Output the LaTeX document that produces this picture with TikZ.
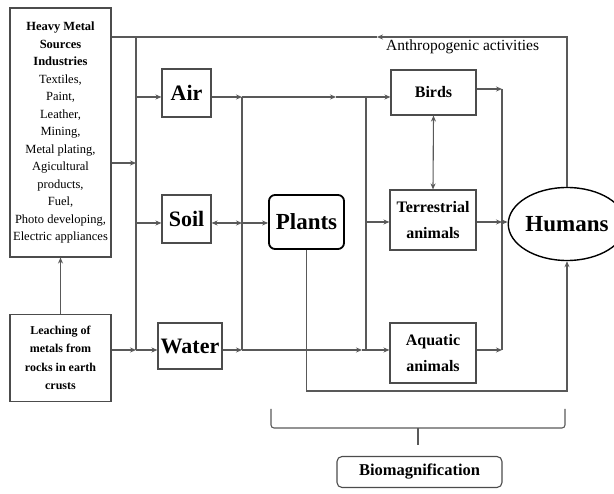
\documentclass[tikz,border=0pt]{standalone}
\usepackage{fontspec}
\setmainfont{Liberation Serif}
\usetikzlibrary{arrows.meta,shapes.geometric}
\begin{document}
\begin{tikzpicture}[x=1pt,y=-1pt,
  line/.style={draw=black!65, line width=1.1pt},
  arr/.style={line, -{Stealth[length=6pt,width=5pt]}},
  darr/.style={line, {Stealth[length=6pt,width=5pt]}-{Stealth[length=6pt,width=5pt]}},
  box/.style={draw=black!70, line width=1.1pt, inner sep=0pt, align=center, fill=white},
  big/.style={font=\bfseries\fontsize{22}{24}\selectfont},
  mid/.style={font=\bfseries\fontsize{16}{26}\selectfont},
]
\useasboundingbox (0,0) rectangle (614,494);

% nodes
\node[box, minimum width=101pt, minimum height=249pt, font=\fontsize{12.5}{17.5}\selectfont] (src) at (60.5,132.5)
  {\textbf{Heavy Metal}\\ \textbf{Sources}\\ \textbf{Industries}\\ Textiles,\\ Paint,\\ Leather,\\ Mining,\\ Metal plating,\\ Agicultural\\ products,\\ Fuel,\\ Photo developing,\\ Electric appliances};
\node[box, minimum width=101pt, minimum height=87pt, font=\bfseries\fontsize{12}{18.5}\selectfont] (leach) at (60.5,358)
  {Leaching of\\ metals from\\ rocks in earth\\ crusts};
\node[box, big, minimum width=49pt, minimum height=48pt] (air) at (186.5,93) {Air};
\node[box, big, minimum width=49pt, minimum height=48pt] (soil) at (186.5,219) {Soil};
\node[box, big, minimum width=64pt, minimum height=46pt] (water) at (190,346) {Water};
\node[box, font=\bfseries\fontsize{23}{25}\selectfont, minimum width=75pt, minimum height=54pt, rounded corners=6pt, draw=black, line width=1.8pt] (plants) at (306.5,222) {Plants};
\node[box, mid, minimum width=85pt, minimum height=45pt] (birds) at (433.5,92.5) {Birds};
\node[box, mid, minimum width=86pt, minimum height=60pt] (terr) at (433,220) {Terrestrial\\ animals};
\node[box, mid, minimum width=86pt, minimum height=60pt] (aqua) at (433,353) {Aquatic\\ animals};
\node[box, ellipse, font=\bfseries\fontsize{23}{25}\selectfont, minimum width=92pt, minimum height=73pt, draw=black, line width=1.4pt] (hum) at (567,224) {Humans};
\node[box, font=\bfseries\fontsize{16.5}{20}\selectfont, minimum width=165pt, minimum height=31pt, rounded corners=5pt] (bio) at (419.5,472) {Biomagnification};
\node[font=\fontsize{15.5}{18}\selectfont, anchor=west, inner sep=0pt] (anthro) at (386,47) {Anthropogenic activities};

% coordinates
\coordinate (amark) at (377,37);
\coordinate (b1t) at (136,37);
\coordinate (b1a) at (136,97);
\coordinate (b1s) at (136,163);
\coordinate (b1soil) at (136,223);
\coordinate (b1b) at (136,350);
\coordinate (b2a) at (242,97);
\coordinate (b2s) at (242,223);
\coordinate (b2w) at (242,350);
\coordinate (m1) at (336,97);
\coordinate (m2) at (362,350);
\coordinate (b3a) at (366,97);
\coordinate (b3t) at (366,222);
\coordinate (b3w) at (366,350);
\coordinate (b4a) at (502,89);
\coordinate (b4t) at (502,222);
\coordinate (b4w) at (502,350);
\coordinate (pb) at (0,391);

% return line
\draw[arr] (hum.north) -- (hum.north |- amark) -- (amark);
\draw[line] (amark) -- (src.east |- amark);

% bus 1
\draw[line] (b1t) -- (b1b);
\draw[arr] (src.east |- b1s) -- (b1s);
\draw[arr] (b1a) -- (air.west |- b1a);
\draw[arr] (b1soil) -- (soil.west |- b1soil);
\draw[arr] (leach.east |- b1b) -- (b1b);
\draw[arr] (b1b) -- (water.west |- b1b);
\draw[arr] (leach.north) -- (src.south);

% bus 2
\draw[line] (b2a) -- (b2w);
\draw[arr] (air.east |- b2a) -- (b2a);
\draw[darr] (soil.east |- b2s) -- (b2s);
\draw[arr] (b2s) -- (plants.west |- b2s);
\draw[arr] (water.east |- b2w) -- (b2w);
\draw[arr] (b2a) -- (m1);
\draw[line] (m1) -- (b3a);
\draw[arr] (b2w) -- (m2);
\draw[line] (m2) -- (b3w);

% bus 3
\draw[line] (b3a) -- (b3w);
\draw[arr] (b3a) -- (birds.west |- b3a);
\draw[arr] (b3t) -- (terr.west |- b3t);
\draw[arr] (b3w) -- (aqua.west |- b3w);
\draw[darr] (birds.south) -- (terr.north);

% bus 4
\draw[line] (b4a) -- (b4w);
\draw[arr] (birds.east |- b4a) -- (b4a);
\draw[arr] (terr.east |- b4t) -- (b4t);
\draw[arr] (b4t) -- (hum.west |- b4t);
\draw[arr] (aqua.east |- b4w) -- (b4w);

% plants to humans
\draw[arr] (plants.south) -- (plants.south |- pb) -| (hum.south);

% brace
\coordinate (brL) at (271,409);
\coordinate (brR) at (565,409);
\coordinate (brM) at (418,428);
\coordinate (brT) at (418,445);
\draw[line, rounded corners=3pt] (brL) |- (brM) -| (brR);
\draw[line] (brM) -- (brT);
\end{tikzpicture}
\end{document}
